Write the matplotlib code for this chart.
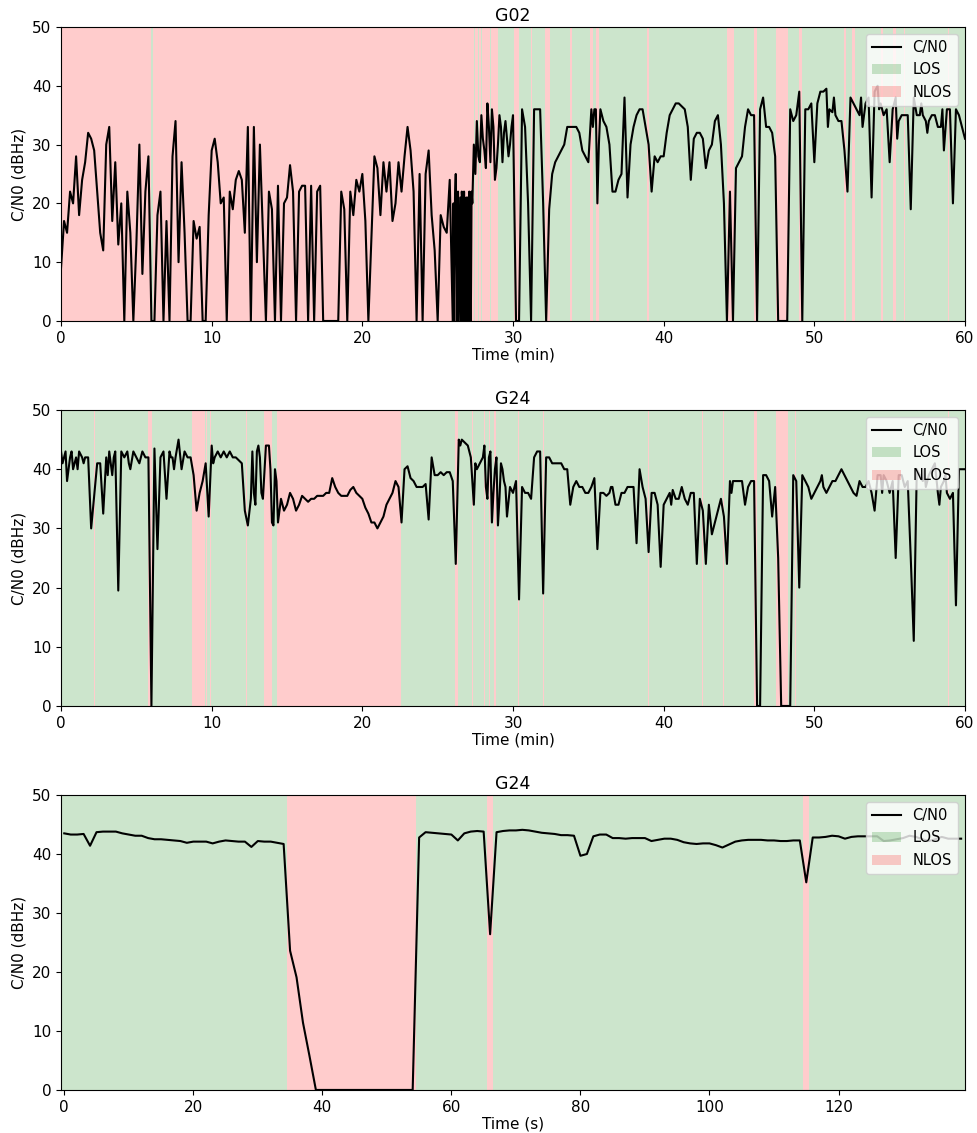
import numpy as np
import matplotlib
matplotlib.use("Agg")
import matplotlib.pyplot as plt
from matplotlib.patches import Patch
from matplotlib.lines import Line2D

# ---- G02, 60 min, values every 0.2 min (dBHz) ----
g02_cn0 = [
    9, 17, 15, 22, 20,   28, 18, 24, 27, 32,   31, 29, 22, 15, 12,
    30, 33, 17, 27, 13,  20, 0, 22, 15, 0,     13, 30, 8, 22, 28,
    0, 0, 18, 22, 0,     17, 0, 28, 34, 10,    27, 15, 0, 0, 17,
    14, 16, 0, 0, 18,    29, 31, 27, 20, 21,   0, 22, 19, 24, 25.5,
    24, 15, 33, 0, 33,   10, 30, 15, 0, 22,    19, 0, 23, 0, 20,
    21, 26.5, 22, 0, 22, 23, 23, 0, 23, 0,     22, 23, 0, 0, 0,
    0, 0, 0, 22, 19,     0, 22, 18, 24, 22,    25, 17, 0, 14, 28,
    26, 18, 27, 22, 27,  17, 20, 27, 22, 28,   33, 29, 22, 0, 25,
    0, 25, 29, 18, 12,   0, 18, 16, 15, 24,    0, 25, 0, 22, 0,
    21, 0, 30, 34, 27,   31, 26, 33, 36, 24,   30, 33, 32, 31, 30,
    35, 0, 0, 36, 33,    20, 0, 36, 36, 36,    20, 0, 19, 25, 27,
    28, 29, 30, 33, 33,  33, 33, 32, 29, 28,   27, 36, 36, 20, 36,
    34, 33, 30, 22, 22,  24, 25, 38, 21, 30,   33, 35, 36, 36, 33,
    30, 22, 28, 27, 28,  28, 32, 35, 36, 37,   37, 36.5, 36, 33, 24,
    31, 32, 32, 31, 26,  29, 30, 34, 35, 30,   20, 0, 22, 0, 26,
    27, 28, 33, 36, 35,  35, 0, 36, 38, 33,    33, 32, 28, 0, 0,
    0, 0, 36, 34, 35,    39, 0, 36, 36, 37,    27, 37, 39, 39, 39.5,
    36, 35.5, 35, 34, 34, 29, 22, 38, 37, 36,  35, 33, 37, 38, 21,
    39, 40, 37, 35, 36,  27, 36, 38, 34, 35,   35, 35, 19, 38, 35,
    35, 35, 34, 34, 35,  35, 33, 33, 29, 36,   36, 20, 36, 35, 33,
    31,
]
# extra readings in the densest stretches (time in min, C/N0)
g02_extra_t = [26.05, 26.1, 26.15, 26.3, 26.35, 26.5, 26.55, 26.65, 26.7, 26.75,
               26.85, 26.9, 26.95, 27.05, 27.1, 27.15, 27.25, 27.3,
               27.5, 27.7, 27.9, 28.1, 28.3, 28.5, 28.7, 28.9, 29.1, 29.3,
               29.5, 29.7, 29.9, 35.3, 35.5, 35.7, 50.9, 51.3, 53.1, 54.3,
               55.5, 57.1, 57.5, 58.5]
g02_extra_v = [20, 0, 21, 0, 22, 21, 0, 20, 0, 22,
               0, 21, 0, 0, 22, 0, 22, 20,
               25, 28, 35, 29, 37, 27, 33, 26, 35, 27,
               34, 28, 33, 33, 36, 30, 33, 38, 38, 36,
               31, 37, 32, 36]
g02_nlos = [
    (0, 6.0), (6.08, 27.4), (27.45, 27.65), (27.75, 27.85), (27.95, 28.45),
    (28.55, 29.0), (30.05, 30.4), (31.2, 31.28), (32.1, 32.45), (33.8, 33.9),
    (35.1, 35.3), (35.5, 35.7), (38.9, 39.0), (44.2, 44.7), (46.0, 46.2),
    (47.45, 48.25), (48.97, 49.2), (51.98, 52.13), (52.5, 52.7), (54.45, 54.57),
    (55.23, 55.4), (55.98, 56.05), (58.85, 58.92),
]

# ---- G24, 60 min, values every 0.2 min (dBHz) ----
g24_cn0 = [
    43, 42, 38, 42, 40,   42, 43, 42, 42, 42,   30, 35.5, 41, 41, 32.5,
    42, 43, 39, 43, 19.5, 43, 42, 43, 40, 43,   42, 41, 43, 42, 42,
    0, 43.5, 26.5, 42, 43, 35, 43, 42, 42, 45,  40, 43, 42, 42, 39,
    33, 36, 38, 41, 32,   44, 42, 43, 42, 43,   42, 43, 42, 42, 41.5,
    41, 33, 30.5, 35, 36, 43, 42, 35, 44, 44,   31, 40, 31, 35, 33,
    34, 36, 35, 33, 34,   35.5, 35, 34.5, 35, 35, 35.5, 35.5, 35.5, 36, 36,
    38.5, 37, 36, 35.5, 35.5, 35.5, 36.5, 37, 36, 35.5, 35, 33.5, 32.5, 31, 31,
    30, 31, 32, 34, 35,   36, 38, 37, 31, 40,   40.5, 38.5, 38, 37, 37,
    37, 37.5, 31.5, 42, 39, 39, 39.5, 39, 39.5, 39.5, 38, 24, 45, 45, 44.5,
    44, 42, 34, 40, 41,   42, 37, 42, 31, 40,   30.5, 41, 38, 32, 37,
    36, 38, 18, 37, 36,   36, 35, 42, 43, 43,   19, 42, 42, 41, 41,
    41, 41, 40, 40, 34,   37, 38, 37, 37, 36,   36, 37, 38.5, 26.5, 36,
    36, 35.5, 36, 37, 34, 34, 36, 36, 37, 37,   37, 27.5, 40, 37, 35,
    26, 36, 36, 34, 23.5, 34, 35, 36, 36.5, 35, 35, 37, 35, 34, 36,
    36, 24, 35, 33, 24,   34, 29, 31, 33, 35,   32, 24, 38, 38, 38,
    38, 38, 34, 37, 38,   38, 0, 0, 39, 39,     38, 32, 37, 25, 0,
    0, 0, 0, 39, 38,      20, 39, 38, 37, 35,   36, 37, 38, 37, 36,
    37, 38, 38, 39, 40,   39, 38, 37, 36, 35.5, 38, 37, 37, 38, 36,
    33, 39, 39, 39, 38,   36, 38, 25, 39, 39,   37, 38, 25, 11, 40,
    39, 38, 37, 39, 40,   41, 36, 37, 38, 36,   35, 36, 17, 40, 40,
    40,
]
g24_extra_t = [0.1, 0.3, 0.5, 0.7, 1.1, 1.5, 3.1, 3.5, 4.5, 7.3, 7.5, 10.1,
               12.7, 12.9, 13.1, 13.3, 13.9, 14.1, 14.3, 26.5, 27.5,
               28.1, 28.3, 28.5, 28.7, 28.9, 29.1, 29.3, 29.5, 36.5, 40.5,
               44.5, 50.5, 54.5, 57.3, 58.3, 58.7]
g24_extra_v = [41, 43, 40, 43, 40, 41, 39, 42, 41, 42, 40, 41,
               43, 34, 44, 36, 40, 30.5, 38, 44, 41,
               44, 35, 43, 36, 42, 35, 40, 37, 37, 34,
               36, 39, 36, 40, 34, 39]
g24_nlos = [
    (2.22, 2.28), (5.75, 6.05), (8.7, 9.55), (9.6, 9.68), (9.88, 9.93),
    (12.28, 12.34), (13.5, 14.0), (14.35, 22.55), (26.15, 26.37), (27.27, 27.32),
    (28.1, 28.16), (28.4, 28.5), (28.75, 28.9), (30.33, 30.38), (31.43, 31.48),
    (32.02, 32.08), (38.95, 39.0), (42.56, 42.61), (43.93, 43.98), (46.0, 46.2),
    (47.45, 48.22), (48.73, 48.78), (52.48, 52.53), (58.86, 58.91),
]

# ---- G24 zoom, 1 s samples (dBHz) ----
g24s_cn0 = [
    43.5, 43.3, 43.3, 43.4, 41.4, 43.7, 43.8, 43.8, 43.8, 43.5,
    43.3, 43.1, 43.1, 42.7, 42.5, 42.5, 42.4, 42.3, 42.2, 41.9,
    42.1, 42.1, 42.1, 41.8, 42.1, 42.3, 42.2, 42.1, 42.1, 41.2,
    42.2, 42.1, 42.1, 41.9, 41.7, 23.6, 19.1, 11.4, 5.8, 0,
    0, 0, 0, 0, 0, 0, 0, 0, 0, 0,
    0, 0, 0, 0, 0, 42.8, 43.7, 43.6, 43.5, 43.4,
    43.3, 42.3, 43.5, 43.8, 43.9, 43.8, 26.4, 43.7, 43.9, 44.0,
    44.0, 44.1, 44.0, 43.8, 43.6, 43.5, 43.4, 43.2, 43.2, 43.1,
    39.7, 40.0, 43.0, 43.3, 43.3, 42.7, 42.7, 42.6, 42.7, 42.7,
    42.7, 42.2, 42.4, 42.6, 42.6, 42.4, 42.0, 41.8, 41.7, 41.8,
    41.8, 41.5, 41.1, 41.6, 42.1, 42.3, 42.4, 42.4, 42.4, 42.3,
    42.3, 42.2, 42.2, 42.3, 42.3, 35.2, 42.8, 42.8, 42.9, 43.1,
    43.0, 42.6, 42.9, 43.0, 43.0, 43.0, 43.0, 42.2, 42.3, 42.5,
    42.7, 43.1, 42.9, 42.5, 42.2, 42.5, 42.9, 42.6, 42.6, 42.6,
]
g24s_nlos = [(34.5, 54.5), (65.5, 66.5), (114.5, 115.5)]


def merge(t_base, v_base, t_extra, v_extra):
    t = np.concatenate([t_base, t_extra])
    v = np.concatenate([v_base, v_extra])
    order = np.argsort(t, kind='stable')
    return t[order], v[order]


t_min = np.linspace(0, 60, len(g02_cn0))
t02, v02 = merge(t_min, g02_cn0, g02_extra_t, g02_extra_v)
t24, v24 = merge(t_min, g24_cn0, g24_extra_t, g24_extra_v)
t_sec = np.arange(len(g24s_cn0))


def los_spans(nlos, lo, hi):
    # everything that is not NLOS inside the axis range
    spans = []
    cur = lo
    for a, b in sorted(nlos):
        if a > cur:
            spans.append((cur, a))
        cur = max(cur, b)
    if cur < hi:
        spans.append((cur, hi))
    return spans


def draw_panel(ax, t, cn0, nlos, xlim, title, xlabel):
    for a, b in los_spans(nlos, xlim[0], xlim[1]):
        ax.axvspan(a, b, color='green', alpha=0.2, lw=0)
    for a, b in nlos:
        ax.axvspan(a, b, color='red', alpha=0.2, lw=0)
    ax.plot(t, cn0, color='k', lw=1.5)
    ax.set_xlim(*xlim)
    ax.set_ylim(0, 50)
    ax.set_yticks([0, 10, 20, 30, 40, 50])
    ax.set_title(title, fontsize=12.5, pad=4)
    ax.set_xlabel(xlabel, fontsize=11, labelpad=1)
    ax.set_ylabel('C/N0 (dBHz)', fontsize=11)
    ax.tick_params(labelsize=11)
    handles = [Line2D([], [], color='k', lw=1.5, label='C/N0'),
               Patch(facecolor='green', alpha=0.2, label='LOS'),
               Patch(facecolor='red', alpha=0.2, label='NLOS')]
    ax.legend(handles=handles, loc='upper right', fontsize=10.5)


fig = plt.figure(figsize=(9.78, 11.33), dpi=100)
ax1 = fig.add_axes([0.0624, 0.7167, 0.9243, 0.2595])
ax2 = fig.add_axes([0.0624, 0.3769, 0.9243, 0.2612])
ax3 = fig.add_axes([0.0624, 0.0380, 0.9243, 0.2603])

draw_panel(ax1, t02, v02, g02_nlos, (0, 60), 'G02', 'Time (min)')
draw_panel(ax2, t24, v24, g24_nlos, (0, 60), 'G24', 'Time (min)')
draw_panel(ax3, t_sec, g24s_cn0, g24s_nlos, (-0.5, 139.6), 'G24', 'Time (s)')

fig.savefig('out.png', dpi=100)
